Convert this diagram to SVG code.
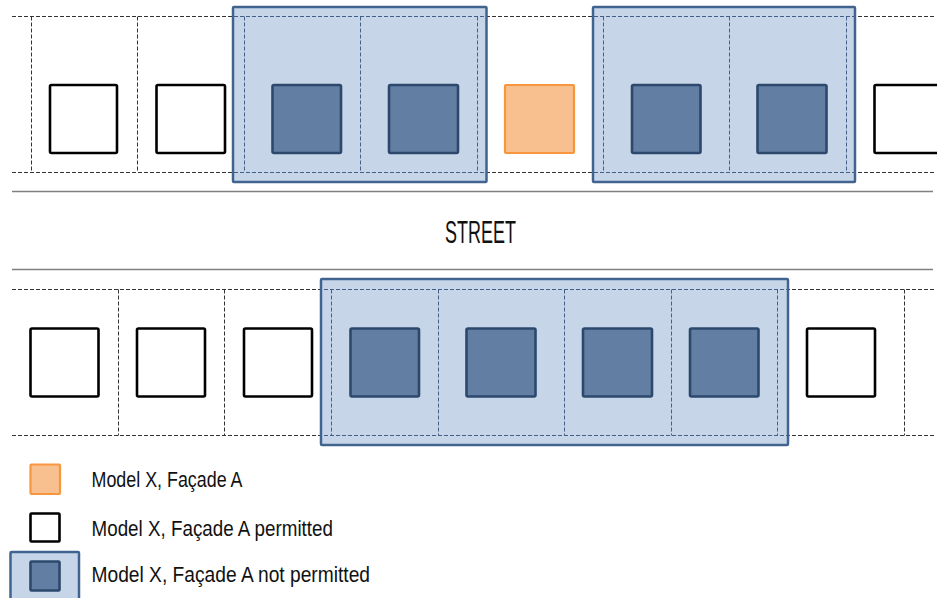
<svg xmlns="http://www.w3.org/2000/svg" xmlns:xlink="http://www.w3.org/1999/xlink" width="937" height="598" viewBox="0 0 937 598">
  <style>
    .grid { stroke-width: 1; stroke-dasharray: 4 2; fill: none; }
    .street { stroke: #808080; stroke-width: 1.6; }
    .zone { fill: #c6d6e8; stroke: none; }
    .zone-edge { fill: none; stroke: #41638f; stroke-width: 2.5; }
    .house-ok { fill: #ffffff; stroke: #000000; stroke-width: 2.6; }
    .house-no { fill: #627ea3; stroke: #2c496d; stroke-width: 2.6; }
    .house-x { fill: #f9c08f; stroke: #f7963f; stroke-width: 2.2; }
    .label { font-family: "Liberation Sans", Arial, sans-serif; fill: #111111; }
  </style>
  <defs>
    <!-- lot lines, north side of the street -->
    <g id="lots-north">
      <line x1="12" y1="16.5" x2="934" y2="16.5"/>
      <line x1="12" y1="172.5" x2="934" y2="172.5"/>
      <line x1="31.5" y1="16.5" x2="31.5" y2="172.5"/>
      <line x1="137.5" y1="16.5" x2="137.5" y2="172.5"/>
      <line x1="244.5" y1="16.5" x2="244.5" y2="172.5"/>
      <line x1="360.5" y1="16.5" x2="360.5" y2="172.5"/>
      <line x1="477.5" y1="16.5" x2="477.5" y2="172.5"/>
      <line x1="603.5" y1="16.5" x2="603.5" y2="172.5"/>
      <line x1="729.5" y1="16.5" x2="729.5" y2="172.5"/>
      <line x1="846.5" y1="16.5" x2="846.5" y2="172.5"/>
    </g>
    <!-- lot lines, south side of the street -->
    <g id="lots-south">
      <line x1="12" y1="289.5" x2="934" y2="289.5"/>
      <line x1="12" y1="435.5" x2="934" y2="435.5"/>
      <line x1="118.5" y1="289.5" x2="118.5" y2="435.5"/>
      <line x1="224.5" y1="289.5" x2="224.5" y2="435.5"/>
      <line x1="331.5" y1="289.5" x2="331.5" y2="435.5"/>
      <line x1="438.5" y1="289.5" x2="438.5" y2="435.5"/>
      <line x1="564.5" y1="289.5" x2="564.5" y2="435.5"/>
      <line x1="671.5" y1="289.5" x2="671.5" y2="435.5"/>
      <line x1="777.5" y1="289.5" x2="777.5" y2="435.5"/>
      <line x1="904.5" y1="289.5" x2="904.5" y2="435.5"/>
    </g>
    <clipPath id="zones-north">
      <rect x="233" y="7" width="253.5" height="175"/>
      <rect x="593" y="7" width="262" height="175"/>
    </clipPath>
    <clipPath id="zones-south">
      <rect x="321" y="279" width="467" height="166"/>
    </clipPath>
  </defs>

  <!-- street edges and name -->
  <g id="street">
    <line class="street" x1="12" y1="191.5" x2="933" y2="191.5"/>
    <line class="street" x1="12" y1="269.5" x2="933" y2="269.5"/>
    <text class="label" x="445" y="243.3" font-size="31" textLength="71" lengthAdjust="spacingAndGlyphs">STREET</text>
  </g>

  <!-- north side -->
  <g id="north-side">
    <use xlink:href="#lots-north" class="grid" stroke="#333333"/>
    <g id="zone-north-1">
      <rect class="zone" x="233" y="7" width="253.5" height="175"/>
    </g>
    <g id="zone-north-2">
      <rect class="zone" x="593" y="7" width="262" height="175"/>
    </g>
    <use xlink:href="#lots-north" class="grid" stroke="#425f88" clip-path="url(#zones-north)"/>
    <rect class="zone-edge" x="233" y="7" width="253.5" height="175" rx="1"/>
    <rect class="zone-edge" x="593" y="7" width="262" height="175" rx="1"/>

    <g id="n1"><rect class="house-ok" x="50" y="85" width="67" height="68" rx="1.5"/></g>
    <g id="n2"><rect class="house-ok" x="156.5" y="85" width="68.5" height="68" rx="1.5"/></g>
    <g id="n3"><rect class="house-no" x="272.5" y="85" width="68.5" height="68" rx="1.5"/></g>
    <g id="n4"><rect class="house-no" x="389" y="85" width="69" height="68" rx="1.5"/></g>
    <g id="n5"><rect class="house-x" x="505" y="85" width="69" height="68" rx="1"/></g>
    <g id="n6"><rect class="house-no" x="632" y="85" width="68.5" height="68" rx="1.5"/></g>
    <g id="n7"><rect class="house-no" x="757.5" y="85" width="69" height="68" rx="1.5"/></g>
    <g id="n8"><rect class="house-ok" x="874.5" y="85" width="69" height="68" rx="1.5"/></g>
  </g>

  <!-- south side -->
  <g id="south-side">
    <use xlink:href="#lots-south" class="grid" stroke="#333333"/>
    <g id="zone-south">
      <rect class="zone" x="321" y="279" width="467" height="166"/>
    </g>
    <use xlink:href="#lots-south" class="grid" stroke="#425f88" clip-path="url(#zones-south)"/>
    <rect class="zone-edge" x="321" y="279" width="467" height="166" rx="1"/>

    <g id="s1"><rect class="house-ok" x="30.5" y="328.5" width="68" height="68" rx="1.5"/></g>
    <g id="s2"><rect class="house-ok" x="137" y="328.5" width="68" height="68" rx="1.5"/></g>
    <g id="s3"><rect class="house-ok" x="244" y="328.5" width="68" height="68" rx="1.5"/></g>
    <g id="s4"><rect class="house-no" x="350.5" y="328.5" width="68.5" height="68" rx="1.5"/></g>
    <g id="s5"><rect class="house-no" x="466.5" y="328.5" width="69" height="68" rx="1.5"/></g>
    <g id="s6"><rect class="house-no" x="583" y="328.5" width="69" height="68" rx="1.5"/></g>
    <g id="s7"><rect class="house-no" x="690" y="328.5" width="68.5" height="68" rx="1.5"/></g>
    <g id="s8"><rect class="house-ok" x="807" y="328.5" width="68" height="68" rx="1.5"/></g>
  </g>

  <!-- key -->
  <g id="legend">
    <g id="legend-x">
      <rect class="house-x" x="30.5" y="464.5" width="29.5" height="29.5" rx="1"/>
      <text class="label" x="91.5" y="486.5" font-size="22" textLength="151" lengthAdjust="spacingAndGlyphs">Model X, Façade A</text>
    </g>
    <g id="legend-ok">
      <rect class="house-ok" x="30.5" y="513.5" width="29" height="28" rx="1"/>
      <text class="label" x="91.5" y="536" font-size="22" textLength="241.5" lengthAdjust="spacingAndGlyphs">Model X, Façade A permitted</text>
    </g>
    <g id="legend-no">
      <rect class="zone" x="10.5" y="552" width="68.5" height="60"/>
      <rect class="zone-edge" x="10.5" y="552" width="68.5" height="60" rx="1"/>
      <rect class="house-no" x="30.5" y="561.5" width="29" height="29" rx="1"/>
      <text class="label" x="91.5" y="581.5" font-size="22" textLength="278.5" lengthAdjust="spacingAndGlyphs">Model X, Façade A not permitted</text>
    </g>
  </g>
</svg>
